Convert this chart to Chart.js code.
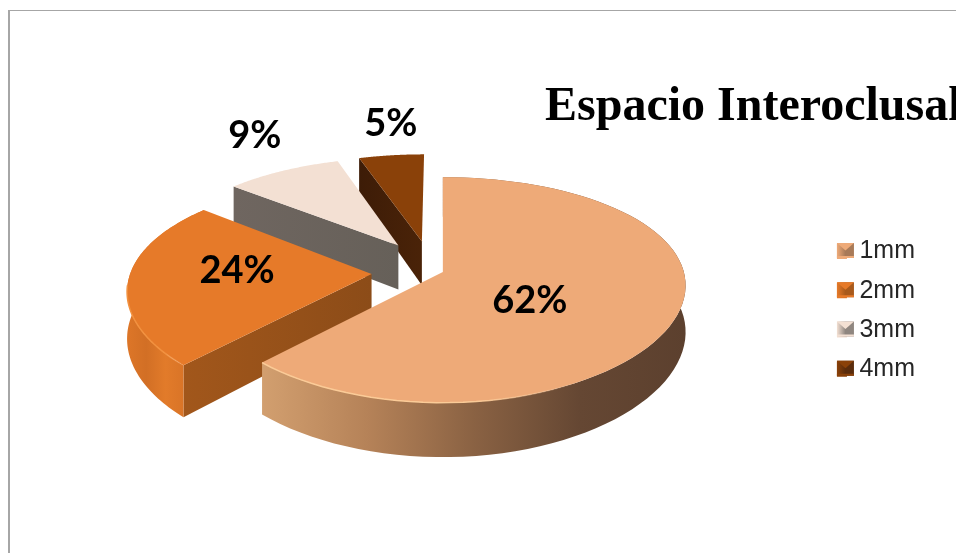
<!DOCTYPE html>
<html lang="es">
<head>
<meta charset="utf-8">
<title>Espacio Interoclusal</title>
<script src="https://cdn.jsdelivr.net/npm/chart.js@4"></script>
<style>
    html, body { margin: 0; padding: 0; background: #fff; overflow: hidden; }
    #wrap { position: relative; width: 956px; height: 553px; }
    #frame { position: absolute; left: 8px; top: 10px; right: 0; bottom: 0;
             border-left: 2px solid #a6a6a6; border-top: 1px solid #a6a6a6; }
    canvas { position: absolute; left: 0; top: 0; }
</style>
</head>
<body>
<div id="wrap">
    <div id="frame"></div>
    <canvas id="pieChart" width="956" height="553"></canvas>
</div>
<script>
var chartTitle = 'Espacio Interoclusal';
var categories = ['1mm', '2mm', '3mm', '4mm'];
var shares = [62, 24, 9, 5];
var topColors = ['#eeaa78', '#e67a29', '#f3e0d3', '#8a4109'];
var sideColors = [['#c99766', '#5f4330'], ['#a85a1c', '#8c4c18'], ['#6f6660', '#666059'], ['#3d1c07', '#4a2308']];
var rimColors = [
    ['#d29f6f', '#b58258', '#8a6243', '#654733', '#5c402e'],
    ['#dd7628', '#d26f25', '#e27b2a', '#d97427', '#d06d24'],
    null,
    null
];
var edgeLight = ['#fbcb97', '#f2913f', null, null];
var swatchShade = ['#a87a58', '#a85a1c', '#8f8680', '#5a2c0c'];

// how far each slice is pulled out of the pie, in pie radii
var pullOut = [[0, 0], [-0.295, 0.019], [-0.19, -0.25], [-0.09, -0.29]];
// where each percentage sits, in pie radii from the pie centre
var labelSpots = [[0.35, 0.25], [-0.855, -0.01], [-0.925, -1.55], [-0.26, -1.72]];

var tilt = 0.456;
var perspective = 0.159;
var perspectiveX = 0.12;
var thickness = 0.19;

function projector(arc) {
    var R = arc.outerRadius;
    return function (x, y, lift) {
        var s = 1 / (1 - perspective * y);
        return {
            x: arc.x + R * x / (1 - perspectiveX * y),
            y: arc.y + R * tilt * y * s + lift * R * thickness * s
        };
    };
}

function rimPoints(arc, pull) {
    var pts = [];
    var steps = 80;
    for (var i = 0; i <= steps; i++) {
        var a = arc.startAngle + (arc.endAngle - arc.startAngle) * i / steps;
        pts.push([Math.cos(a) + pull[0], Math.sin(a) + pull[1]]);
    }
    return pts;
}

function trace(ctx, list) {
    ctx.beginPath();
    list.forEach(function (p, i) {
        if (i === 0) ctx.moveTo(p.x, p.y);
        else ctx.lineTo(p.x, p.y);
    });
    ctx.closePath();
}

function wall(ctx, project, a, b, fill) {
    trace(ctx, [project(a[0], a[1], 0), project(b[0], b[1], 0), project(b[0], b[1], 1), project(a[0], a[1], 1)]);
    ctx.fillStyle = fill;
    ctx.fill();
}

function stops(ctx, x0, x1, colors) {
    var g = ctx.createLinearGradient(x0, 0, x1, 0);
    colors.forEach(function (c, i) {
        g.addColorStop(i / (colors.length - 1), c);
    });
    return g;
}

function drawSlice(ctx, arc, i) {
    var project = projector(arc);
    var pull = pullOut[i];
    var edge = rimPoints(arc, pull);
    var top = edge.map(function (p) { return project(p[0], p[1], 0); });
    var low = edge.map(function (p) { return project(p[0], p[1], 1); });
    var xs = top.map(function (p) { return p.x; });
    var minX = Math.min.apply(null, xs);
    var maxX = Math.max.apply(null, xs);
    var apexTop = project(pull[0], pull[1], 0);

    // only a cut that starts on the left half faces the viewer
    if (Math.cos(arc.startAngle) < -0.01) {
        wall(ctx, project, pull, edge[0], stops(ctx, minX, apexTop.x, sideColors[i]));
    }

    // the back slices show no rim
    if (rimColors[i]) {
        trace(ctx, top.concat(low.slice().reverse()));
        ctx.fillStyle = stops(ctx, minX, maxX, rimColors[i]);
        ctx.fill();
    }

    trace(ctx, [apexTop].concat(top));
    ctx.fillStyle = topColors[i];
    ctx.fill();

    if (edgeLight[i]) {
        var g = ctx.createLinearGradient(minX, 0, maxX, 0);
        g.addColorStop(0, edgeLight[i]);
        g.addColorStop(0.5, edgeLight[i]);
        g.addColorStop(0.75, 'rgba(255,200,150,0)');
        ctx.beginPath();
        var front = top.filter(function (p, n) { return edge[n][1] > pull[1] + 0.1; });
        front.forEach(function (p, n) {
            if (n === 0) ctx.moveTo(p.x, p.y);
            else ctx.lineTo(p.x, p.y);
        });
        ctx.strokeStyle = g;
        ctx.lineWidth = 1.5;
        ctx.stroke();
    }
}

function drawSwatch(ctx, box, i) {
    var x = box.left, y = box.top + 4, w = 17, h = 15;
    ctx.fillStyle = stops(ctx, x, x + w, [topColors[i], swatchShade[i], swatchShade[i]]);
    ctx.fillRect(x, y, w, h);
    ctx.fillStyle = topColors[i];
    ctx.beginPath();
    ctx.moveTo(x, y);
    ctx.lineTo(x + w, y);
    ctx.lineTo(x + w / 2, y + h * 0.5);
    ctx.closePath();
    ctx.fill();
    ctx.fillRect(x, y + h - 2, w, 2);
}

var pie3d = {
    id: 'pie3d',
    beforeDatasetDraw: function (chart, args) {
        var ctx = chart.ctx;
        var arcs = args.meta.data;
        for (var i = arcs.length - 1; i >= 0; i--) {
            drawSlice(ctx, arcs[i], i);
        }
        return false;
    },
    afterDraw: function (chart) {
        var ctx = chart.ctx;
        var arcs = chart.getDatasetMeta(0).data;
        ctx.save();
        ctx.textAlign = 'center';
        ctx.textBaseline = 'middle';
        ctx.fillStyle = '#000';
        ctx.font = '700 38px Lato';
        arcs.forEach(function (arc, i) {
            var p = projector(arc)(labelSpots[i][0], labelSpots[i][1], 0);
            ctx.fillText(shares[i] + '%', p.x, p.y);
        });
        ctx.textAlign = 'left';
        ctx.textBaseline = 'alphabetic';
        ctx.font = 'bold 48px "Liberation Serif"';
        ctx.fillText(chartTitle, 545, 120);
        chart.legend.legendHitBoxes.forEach(function (box, i) {
            drawSwatch(ctx, box, i);
        });
        ctx.restore();
    }
};

new Chart(document.getElementById('pieChart').getContext('2d'), {
    type: 'pie',
    data: {
        labels: categories,
        datasets: [{
            data: shares,
            backgroundColor: topColors,
            borderWidth: 0
        }]
    },
    options: {
        responsive: false,
        animation: false,
        radius: 241,
        layout: { padding: { left: 63, right: 31, top: 148, bottom: 157 } },
        plugins: {
            tooltip: { enabled: false },
            legend: {
                position: 'right',
                align: 'end',
                labels: {
                    boxWidth: 10,
                    boxHeight: 15,
                    padding: 14.25,
                    color: '#262626',
                    font: { family: '"Liberation Sans"', size: 25 }
                }
            }
        }
    },
    plugins: [pie3d]
});
</script>
</body>
</html>
